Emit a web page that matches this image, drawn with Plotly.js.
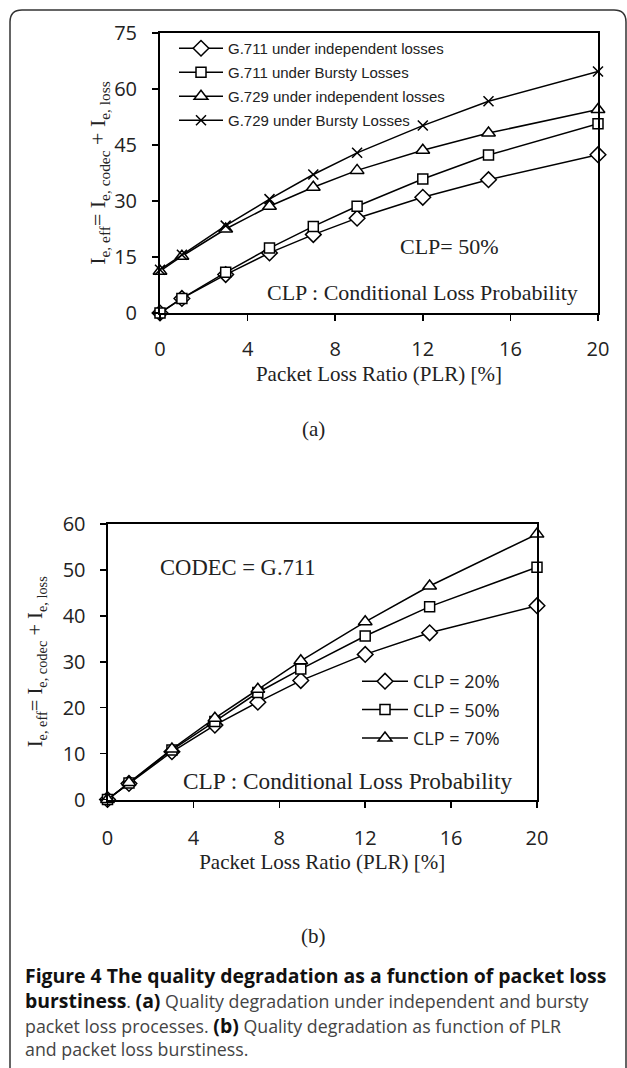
<!DOCTYPE html>
<html><head><meta charset="utf-8">
<script src="https://cdn.plot.ly/plotly-3.0.1.min.js"></script>
<style>html,body{margin:0;padding:0;background:#fff;}#chart{width:627px;height:1068px;}</style>
</head><body><div id="chart"></div>
<script>
// ---- data ----
const plr = [0, 1, 3, 5, 7, 9, 12, 15, 20];
const g711Indep  = [0, 3.9, 10.3, 16.1, 21.0, 25.4, 31.0, 35.7, 42.4];
const g711Bursty = [0, 3.9, 10.9, 17.4, 23.2, 28.6, 35.9, 42.3, 50.7];
const g729Indep  = [11.2, 15.2, 22.5, 28.6, 33.7, 38.2, 43.6, 48.2, 54.5];
const g729Bursty = [11.6, 15.6, 23.4, 30.5, 37.1, 42.9, 50.2, 56.7, 64.7];
const clp20 = [0, 3.5, 10.4, 16.2, 21.2, 25.9, 31.6, 36.3, 42.2];
const clp50 = [0, 3.6, 10.8, 17.0, 23.3, 28.4, 35.6, 42.0, 50.6];
const clp70 = [0, 3.7, 11.0, 17.7, 24.0, 30.2, 38.7, 46.5, 57.8];
const namesA = ['G.711 under independent losses', 'G.711 under Bursty Losses',
                'G.729 under independent losses', 'G.729 under Bursty Losses'];
const namesB = ['CLP = 20%', 'CLP = 50%', 'CLP = 70%'];
const xTicks = [0, 4, 8, 12, 16, 20];
const yTicksA = [0, 15, 30, 45, 60, 75];
const yTicksB = [0, 10, 20, 30, 40, 50, 60];
const captionLines = [
  '<b>Figure 4 The quality degradation as a function of packet loss</b>',
  '<b>burstiness</b>. <b>(a)</b> Quality degradation under independent and bursty',
  'packet loss processes. <b>(b)</b> Quality degradation as function of PLR',
  'and packet loss burstiness.'
];

// ---- helpers ----
const W = 627, H = 1068;
const px = x => x / W;
const py = y => 1 - y / H;
const serif = 'Liberation Serif, Times New Roman, serif';
const sans = 'Open Sans, Liberation Sans, sans-serif';
const arial = 'Liberation Sans, Arial, sans-serif';

function tr(y, name, sym, xa, ya, leg, grp) {
  const isX = sym === 'x-thin';
  return {
    x: plr, y: y, name: name, type: 'scatter', mode: 'lines+markers',
    xaxis: xa, yaxis: ya, legend: leg, legendgroup: grp, cliponaxis: false,
    line: {color: '#000', width: 1.5},
    marker: {symbol: sym, size: isX ? 10 : (sym === 'square' ? 10 : 12),
             color: isX ? '#000' : '#fff', line: {color: '#000', width: 1.5}}
  };
}

const data = [
  tr(g711Indep,  namesA[0], 'diamond',     'x',  'y',  'legend', 'a1'),
  tr(g711Bursty, namesA[1], 'square',      'x',  'y',  'legend', 'a2'),
  tr(g729Indep,  namesA[2], 'triangle-up', 'x',  'y',  'legend', 'a3'),
  tr(g729Bursty, namesA[3], 'x-thin',      'x',  'y',  'legend', 'a4'),
  tr(clp20, namesB[0], 'diamond',     'x2', 'y2', 'legend2', 'b1'),
  tr(clp50, namesB[1], 'square',      'x2', 'y2', 'legend2', 'b2'),
  tr(clp70, namesB[2], 'triangle-up', 'x2', 'y2', 'legend2', 'b3')
];

const axBase = {
  showline: true, mirror: true, linecolor: '#000', linewidth: 2,
  showgrid: false, zeroline: false, ticks: 'outside', ticklen: 6,
  tickwidth: 1.5, tickcolor: '#000', tickfont: {family: sans, size: 20, color: '#222'},
  fixedrange: true
};
const yTitle = 'I<sub>e, eff</sub>= I<sub>e, codec</sub> + I<sub>e, loss</sub>';

function ann(x, y, text, size) {
  return {xref: 'paper', yref: 'paper', x: px(x), y: py(y), xanchor: 'center', yanchor: 'middle',
          text: text, showarrow: false, font: {family: serif, size: size, color: '#222'}};
}
function capLine(i, y, size) {
  const t = captionLines[i].replace(/<b>/g, '<b style="color:#111;font-size:19.4px">');
  return {xref: 'paper', yref: 'paper', x: px(23), y: py(y), xanchor: 'left', yanchor: 'middle',
          align: 'left', showarrow: false, text: t,
          font: {family: sans, size: size, color: '#444'}};
}

const layout = {
  width: W, height: H, margin: {l: 0, r: 0, t: 0, b: 0},
  paper_bgcolor: '#fff', plot_bgcolor: '#fff', showlegend: true,
  xaxis: Object.assign({}, axBase, {
    domain: [px(160), px(598)], range: [0, 20], tickvals: xTicks, anchor: 'y',
    ticklabelstandoff: 11,
    title: {text: 'Packet Loss Ratio (PLR) [%]', font: {family: serif, size: 21, color: '#222'}, standoff: 0}
  }),
  yaxis: Object.assign({}, axBase, {
    domain: [py(313), py(33)], range: [0, 75], tickvals: yTicksA, anchor: 'x',
    ticklabelstandoff: 11,
    title: {text: yTitle, font: {family: serif, size: 22, color: '#222'}, standoff: 2}
  }),
  xaxis2: Object.assign({}, axBase, {
    domain: [px(107.5), px(537)], range: [0, 20], tickvals: xTicks, anchor: 'y2',
    ticklabelstandoff: 13,
    title: {text: 'Packet Loss Ratio (PLR) [%]', font: {family: serif, size: 21, color: '#222'}, standoff: 4}
  }),
  yaxis2: Object.assign({}, axBase, {
    domain: [py(799.5), py(524)], range: [0, 60], tickvals: yTicksB, anchor: 'x2',
    ticklabelstandoff: 10,
    title: {text: yTitle, font: {family: serif, size: 20.5, color: '#222'}, standoff: 14}
  }),
  legend: {
    x: px(174), y: py(32), xanchor: 'left', yanchor: 'top',
    bgcolor: 'rgba(0,0,0,0)', borderwidth: 0, itemwidth: 44, tracegroupgap: 1.5,
    font: {family: arial, size: 15, color: '#222'}
  },
  legend2: {
    x: px(357), y: py(663), xanchor: 'left', yanchor: 'top',
    bgcolor: 'rgba(0,0,0,0)', borderwidth: 0, itemwidth: 46, tracegroupgap: 2,
    font: {family: sans, size: 18, color: '#222'}
  },
  annotations: [
    ann(449, 247, 'CLP= 50%', 22),
    ann(422, 293, 'CLP : Conditional Loss Probability', 22),
    ann(313, 429, '(a)', 21),
    ann(238, 567, 'CODEC = G.711', 22.6),
    ann(348, 781, 'CLP : Conditional Loss Probability', 23.3),
    ann(313, 936, '(b)', 21),
    capLine(0, 975, 19.4),
    capLine(1, 1000, 17.8),
    capLine(2, 1025, 17.8),
    capLine(3, 1049, 17.8)
  ],
  shapes: [
    {type: 'path', xref: 'paper', yref: 'paper', layer: 'above',
     path: 'M ' + px(10) + ',' + py(1080) + ' L ' + px(10) + ',' + py(22) +
           ' Q ' + px(10) + ',' + py(10) + ' ' + px(22) + ',' + py(10) +
           ' L ' + px(614) + ',' + py(10) +
           ' Q ' + px(626) + ',' + py(10) + ' ' + px(626) + ',' + py(22) +
           ' L ' + px(626) + ',' + py(1080),
     line: {color: '#333', width: 1.5}}
  ]
};

Plotly.newPlot('chart', data, layout, {staticPlot: true, displayModeBar: false});
</script></body></html>
